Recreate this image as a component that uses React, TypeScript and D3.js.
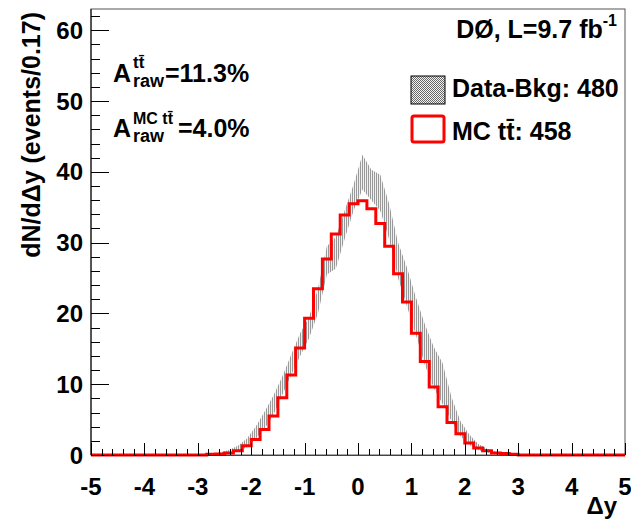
import React from "react";
import * as d3 from "d3";

// 60 bins of width 1/6 from -5 to 5
const binEdges: number[] = d3.range(61).map((i) => -5 + (i * 10) / 60);

// MC ttbar histogram (events per bin)
const mcValues: number[] = [
  0, 0, 0, 0, 0, 0, 0, 0, 0, 0,
  0, 0, 0, 0.1, 0.15, 0.3, 0.6, 1.3, 2.2, 3.6,
  5.5, 8.1, 11.3, 15.1, 19.3, 23.5, 27.7, 31.2, 33.9, 35.5,
  35.9, 34.8, 32.7, 29.5, 25.6, 21.6, 17.2, 13.2, 9.6, 6.8,
  4.6, 3.0, 1.7, 1.0, 0.6, 0.3, 0.2, 0.1, 0, 0,
  0, 0, 0, 0, 0, 0, 0, 0, 0, 0,
];

// Data - background central values
const dataValues: number[] = [
  0, 0, 0, 0, 0, 0, 0, 0, 0, 0,
  0, 0, 0, 0.08, 0.2, 0.45, 0.9, 1.7, 3.15, 4.9,
  7.05, 9.8, 12.75, 15.6, 18.0, 21.75, 27.5, 28.55, 32.5, 36.35,
  39.95, 38.15, 37.05, 33.0, 27.5, 23.75, 19.65, 15.65, 12.4, 10.1,
  6.5, 3.75, 2.15, 1.15, 0.62, 0.3, 0.1, 0, 0, 0,
  0, 0, 0, 0, 0, 0, 0, 0, 0, 0,
];

// Data - background uncertainty (half band width)
const dataErrors: number[] = [
  0, 0, 0, 0, 0, 0, 0, 0, 0, 0,
  0, 0, 0, 0.07, 0.15, 0.25, 0.4, 0.6, 0.85, 1.2,
  1.35, 1.3, 1.45, 1.6, 1.5, 1.75, 2.0, 2.25, 2.0, 1.85,
  2.45, 2.15, 2.55, 2.5, 2.5, 2.75, 2.65, 2.85, 2.9, 2.9,
  1.7, 1.05, 0.75, 0.45, 0.28, 0.15, 0.1, 0, 0, 0,
  0, 0, 0, 0, 0, 0, 0, 0, 0, 0,
];

const xTicks: number[] = [-5, -4, -3, -2, -1, 0, 1, 2, 3, 4, 5];
const yTicks: number[] = [0, 10, 20, 30, 40, 50, 60];

const FONT = "'Liberation Sans', Arial, Helvetica, sans-serif";

export default function App() {
  const W = 631;
  const H = 520;
  const x = d3.scaleLinear().domain([-5, 5]).range([91, 625]);
  const y = d3.scaleLinear().domain([0, 63]).range([455, 9]);

  // MC step path
  const stepPts: [number, number][] = [[x(-5), y(0)]];
  mcValues.forEach((v, i) => {
    stepPts.push([x(binEdges[i]), y(v)]);
    stepPts.push([x(binEdges[i + 1]), y(v)]);
  });
  stepPts.push([x(5), y(0)]);
  const stepPath = d3.line()(stepPts) || "";

  // data band
  const centers = mcValues.map((_, i) => (binEdges[i] + binEdges[i + 1]) / 2);
  const bandArea = d3
    .area<number>()
    .x((_, i) => x(centers[i]))
    .y0((d, i) => y(Math.max(0, d - dataErrors[i])))
    .y1((d, i) => y(d + dataErrors[i]));
  const bandPath = bandArea(dataValues) || "";

  const xMinor = d3.range(-5, 5.0001, 0.2);
  const yMinor = d3.range(0, 63, 2);

  return (
    <svg
      width={W}
      height={H}
      style={{ position: "absolute", left: 0, top: 0, background: "#fff" }}
      fontFamily={FONT}
      fontWeight="bold"
    >
      <defs>
        <pattern id="vhatch" width="2" height="2" patternUnits="userSpaceOnUse">
          <rect x="0" y="0" width="2" height="2" fill="#f0f0f0" />
          <rect x="0" y="0" width="1" height="2" fill="#999999" />
        </pattern>
        <pattern id="dots" width="2" height="2" patternUnits="userSpaceOnUse">
          <rect x="0" y="0" width="2" height="2" fill="#f4f4f4" />
          <rect x="0" y="0" width="1" height="1" fill="#666" />
          <rect x="1" y="1" width="1" height="1" fill="#666" />
        </pattern>
      </defs>

      {/* frame */}
      <rect x={91} y={9} width={534} height={446} fill="none" stroke="#555" strokeWidth={1} />

      {/* data band */}
      <path d={bandPath} fill="url(#vhatch)" stroke="none" />

      {/* MC histogram */}
      <path d={stepPath} fill="none" stroke="#ff0000" strokeWidth={3} strokeLinejoin="miter" />

      {/* axes */}
      <line x1={91} y1={9} x2={91} y2={455} stroke="#000" strokeWidth={1} />
      <line x1={91} y1={455.5} x2={625} y2={455.5} stroke="#000" strokeWidth={1} opacity={0.6} />

      {/* y ticks */}
      {yMinor.map((v) => (
        <line
          key={"ym" + v}
          x1={91}
          x2={v % 10 === 0 ? 109 : 100}
          y1={Math.round(y(v)) + 0.5}
          y2={Math.round(y(v)) + 0.5}
          stroke="#000"
          strokeWidth={1}
        />
      ))}
      {yTicks.map((v) => (
        <text key={"yl" + v} x={83} y={y(v) + 8.5} textAnchor="end" fontSize={24}>
          {v}
        </text>
      ))}

      {/* x ticks */}
      {xMinor.map((v, i) => (
        <line
          key={"xm" + i}
          x1={Math.round(x(v)) + 0.5}
          x2={Math.round(x(v)) + 0.5}
          y1={455}
          y2={i % 5 === 0 ? 443 : 449}
          stroke="#000"
          strokeWidth={1}
        />
      ))}
      {xTicks.map((v) => (
        <text key={"xl" + v} x={x(v)} y={495} textAnchor="middle" fontSize={24}>
          {v}
        </text>
      ))}

      {/* axis titles */}
      <text x={617} y={514} textAnchor="end" fontSize={24}>
        Δy
      </text>
      <text
        transform="translate(40,12) rotate(-90)"
        textAnchor="end"
        fontSize={25}
      >
        dN/dΔy (events/0.17)
      </text>

      {/* experiment label */}
      <text x={617} y={38} textAnchor="end" fontSize={25}>
        DØ, L=9.7 fb
        <tspan fontSize={16} dy={-12}>-1</tspan>
      </text>

      {/* asymmetry annotations */}
      <text x={113} y={82} fontSize={25}>A</text>
      <text x={133} y={68} fontSize={17}>tt̄</text>
      <text x={133} y={87} fontSize={18}>raw</text>
      <text x={165} y={82} fontSize={25}>=11.3%</text>

      <text x={113} y={137} fontSize={25}>A</text>
      <text x={133} y={124} fontSize={16}>MC tt̄</text>
      <text x={133} y={142} fontSize={18}>raw</text>
      <text x={178} y={137} fontSize={25}>=4.0%</text>

      {/* legend */}
      <rect x={411} y={76} width={34} height={28} fill="url(#dots)" stroke="#000" strokeWidth={1} />
      <text x={452} y={97} fontSize={25}>Data-Bkg: 480</text>
      <rect x={412} y={116} width={32} height={26} rx={2} fill="none" stroke="#ff0000" strokeWidth={3} />
      <text x={452} y={140} fontSize={25}>MC tt̄: 458</text>
    </svg>
  );
}
